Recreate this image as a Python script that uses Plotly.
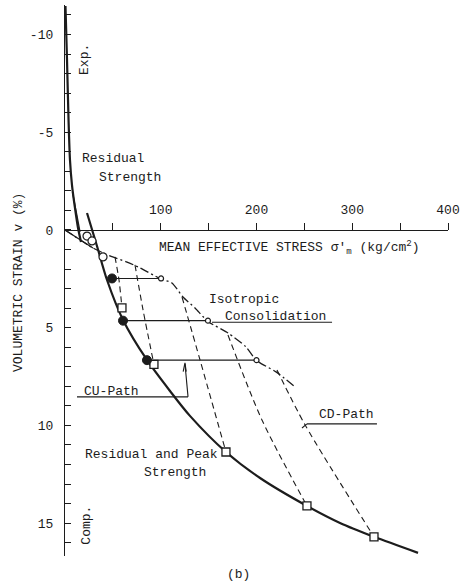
import plotly.graph_objects as go

# ---------------- data ----------------
# Extension-side residual strength curve ("Exp.")
exp_x = [0.5, 2.1, 3.7, 5.2, 7.3, 10.4, 13.6, 16.7]
exp_v = [-11.46, -8.70, -5.63, -3.58, -2.30, -1.13, -0.10, 0.61]
# short companion line near the origin
res_ext_x = [7.8, 15.7]
res_ext_v = [-1.94, 0.10]

# Compression-side residual and peak strength curve
peak_x = [23.0, 33.4, 43.9, 60.6, 85.6, 109.7, 130.5, 168.1, 203.7, 252.7, 287.2, 322.7, 368.7]
peak_v = [-0.87, 0.82, 2.56, 4.60, 6.65, 8.24, 9.51, 11.36, 12.69, 14.12, 14.99, 15.70, 16.52]

# Isotropic consolidation line
iso_x = [0, 29.2, 47.0, 64.8, 78.3, 100.3, 111.7, 123.2, 135.8, 149.3, 170.2, 189.0, 200.0, 220.4, 240.2]
iso_v = [0, 0.92, 1.33, 1.64, 1.94, 2.51, 2.71, 3.43, 3.99, 4.68, 5.27, 5.98, 6.68, 7.26, 8.03]

# CU paths (constant volume): failure point (black dot) -> start on isotropic line (open circle)
cu_v = [2.48, 4.64, 6.66]
cu_fail_x = [49.1, 60.6, 85.6]
cu_start_x = [100.3, 149.3, 200.0]

# CD paths (dashed) from isotropic line to failure (open squares)
cd_paths_x = [
    [52.2, 56.4, 59.5],
    [73.1, 81.5, 92.9],
    [122.2, 141.0, 168.1],
    [170.2, 205.7, 252.7],
    [221.4, 250.7, 322.7],
]
cd_paths_v = [
    [1.38, 2.56, 3.99],
    [1.79, 4.09, 6.88],
    [3.43, 6.65, 11.36],
    [5.37, 9.72, 14.12],
    [7.16, 9.97, 15.70],
]

# open circles near the origin
oc_x = [23.0, 28.2, 39.7]
oc_v = [0.31, 0.56, 1.38]

# axis ticks
x_tickvals = [100, 200, 300, 400]
x_ticktext = ["100", "200", "300", "400"]
y_tickvals = [-10, -5, 0, 5, 10, 15]
y_ticktext = ["-10", "-5", "0", "5", "10", "15"]

# ---------------- figure ----------------
FONT = "Liberation Mono, Courier New, monospace"
INK = "#1c1c1c"
Y_TOP, Y_BOT = -11.51, 16.68

fig = go.Figure()

# isotropic consolidation (dash-dot), with solid first part
fig.add_trace(go.Scatter(x=iso_x, y=iso_v, mode="lines",
                         line=dict(color=INK, width=1.3, dash="9px,3px,2px,3px", shape="spline", smoothing=0.6)))
fig.add_trace(go.Scatter(x=iso_x[:2], y=iso_v[:2], mode="lines",
                         line=dict(color=INK, width=1.3)))

# CD paths
for px_, pv_ in zip(cd_paths_x, cd_paths_v):
    fig.add_trace(go.Scatter(x=px_, y=pv_, mode="lines",
                             line=dict(color=INK, width=1.1, dash="6px,4px", shape="spline", smoothing=0.8)))

# CU paths (horizontal solid thin)
for v, x0, x1 in zip(cu_v, cu_fail_x, cu_start_x):
    fig.add_trace(go.Scatter(x=[x0, x1], y=[v, v], mode="lines",
                             line=dict(color=INK, width=1.1)))

# thick strength curves
fig.add_trace(go.Scatter(x=exp_x, y=exp_v, mode="lines",
                         line=dict(color=INK, width=2.2, shape="spline", smoothing=0.6)))
fig.add_trace(go.Scatter(x=res_ext_x, y=res_ext_v, mode="lines",
                         line=dict(color=INK, width=1.3)))
fig.add_trace(go.Scatter(x=peak_x, y=peak_v, mode="lines",
                         line=dict(color=INK, width=2.2, shape="spline", smoothing=0.8)))

# markers
fig.add_trace(go.Scatter(x=[p[-1] for p in cd_paths_x], y=[p[-1] for p in cd_paths_v], mode="markers",
                         marker=dict(symbol="square", size=8, color="white", line=dict(color=INK, width=1.3))))
fig.add_trace(go.Scatter(x=cu_fail_x, y=cu_v, mode="markers",
                         marker=dict(symbol="circle", size=9, color=INK, line=dict(color=INK, width=1))))
fig.add_trace(go.Scatter(x=cu_start_x, y=cu_v, mode="markers",
                         marker=dict(symbol="circle", size=5, color="white", line=dict(color=INK, width=1.2))))
fig.add_trace(go.Scatter(x=oc_x, y=oc_v, mode="markers",
                         marker=dict(symbol="circle", size=8, color="white", line=dict(color=INK, width=1.2))))

# label leader lines
shapes = [
    # CU-Path underline + pointer
    dict(type="line", x0=12.5, y0=8.54, x1=128.5, y1=8.54),
    dict(type="line", x0=128.5, y0=8.54, x1=125.3, y1=6.85),
    dict(type="path", path="M 123.4,7.25 L 125.3,6.80 L 126.6,7.25"),
    # Isotropic consolidation underline
    dict(type="line", x0=153.5, y0=4.72, x1=278.9, y1=4.72),
    # CD-Path hook + underline
    dict(type="line", x0=247.5, y0=10.13, x1=252.7, y1=9.92),
    dict(type="line", x0=252.7, y0=9.92, x1=325.8, y1=9.92),
]
for s in shapes:
    s.update(xref="x", yref="y", line=dict(color=INK, width=1.1))

ann_font = dict(family=FONT, size=13, color=INK)
annotations = [
    dict(x=96.1, y=0.92, xanchor="left", text="MEAN EFFECTIVE STRESS σ'<sub>m</sub> (kg/cm<sup>2</sup>)"),
    dict(x=15.7, y=-3.68, xanchor="left", text="Residual"),
    dict(x=33.4, y=-2.71, xanchor="left", text="Strength"),
    dict(x=20.9, y=-8.70, text="Exp.", textangle=-90),
    dict(x=22.7, y=15.09, text="Comp.", textangle=-90),
    dict(x=17.4, y=8.27, xanchor="left", text="CU-Path"),
    dict(x=18.8, y=11.51, xanchor="left", text="Residual and Peak"),
    dict(x=80.4, y=12.43, xanchor="left", text="Strength"),
    dict(x=148.3, y=3.58, xanchor="left", text="Isotropic"),
    dict(x=165.0, y=4.43, xanchor="left", text="Consolidation"),
    dict(x=263.2, y=9.46, xanchor="left", text="CD-Path"),
    dict(x=-0.120, y=0.4955, xref="paper", yref="paper", xanchor="center", yanchor="middle",
         text="VOLUMETRIC STRAIN v (%)", textangle=-90),
    dict(x=0.4517, y=-0.0327, xref="paper", yref="paper", xanchor="center", yanchor="middle", text="(b)"),
]
for a in annotations:
    a.setdefault("xref", "x")
    a.setdefault("yref", "y")
    a.setdefault("showarrow", False)
    a.setdefault("font", ann_font)

fig.update_layout(
    width=468, height=584,
    margin=dict(l=65, r=20, t=5, b=28),
    paper_bgcolor="white", plot_bgcolor="white",
    showlegend=False,
    shapes=shapes,
    annotations=annotations,
    xaxis=dict(range=[0, 400], side="top", anchor="free", position=Y_BOT / (Y_BOT - Y_TOP),
               showline=True, linecolor=INK, linewidth=1.3, ticks="outside", ticklen=7,
               tickcolor=INK, tickwidth=1.2, tickvals=x_tickvals, ticktext=x_ticktext,
               minor=dict(tickvals=[50, 150, 250, 350], ticks="outside", ticklen=7,
                          tickcolor=INK, tickwidth=1.2, showgrid=False),
               tickfont=dict(family=FONT, size=13, color=INK), ticklabelstandoff=4,
               showgrid=False, zeroline=False),
    yaxis=dict(range=[Y_BOT, Y_TOP], showline=True, linecolor=INK, linewidth=1.3,
               ticks="inside", ticklen=6, tickcolor=INK, tickwidth=1.2,
               tickvals=y_tickvals, ticktext=y_ticktext,
               minor=dict(dtick=1, tick0=0, ticks="inside", ticklen=6,
                          tickcolor=INK, tickwidth=1.2, showgrid=False),
               tickfont=dict(family=FONT, size=13, color=INK), ticklabelstandoff=8,
               showgrid=False, zeroline=False),
)

fig.write_html("out.html")
